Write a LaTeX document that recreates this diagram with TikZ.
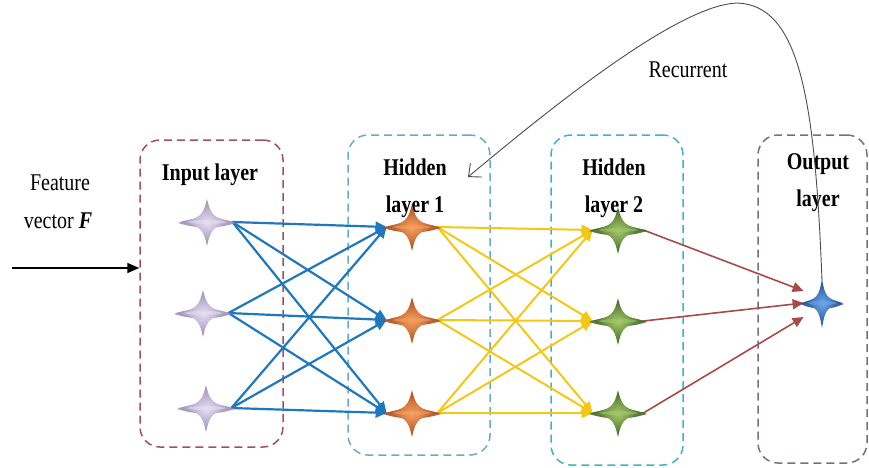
\documentclass[tikz,border=0pt]{standalone}
\usepackage{graphicx}
\usepackage{fontspec}
\setmainfont{Liberation Serif}
\usetikzlibrary{arrows.meta,fit}
\newcommand{\tallt}[1]{\scalebox{1}[1.2]{#1}}
\definecolor{inboxc}{HTML}{A0505E}
\definecolor{hboxa}{HTML}{6AAAC6}
\definecolor{hboxb}{HTML}{3DB2CA}
\definecolor{oboxc}{HTML}{756D8C}
\definecolor{blueedge}{HTML}{1F78BE}
\definecolor{yellowedge}{HTML}{F2C814}
\definecolor{rededge}{HTML}{A84A4A}
\definecolor{lavin}{HTML}{E6DEF0}
\definecolor{lavout}{HTML}{9A8AB6}
\definecolor{orin}{HTML}{F7A060}
\definecolor{orout}{HTML}{A84A1C}
\definecolor{grin}{HTML}{A6C86A}
\definecolor{grout}{HTML}{3A6420}
\definecolor{blin}{HTML}{6AA6E8}
\definecolor{blout}{HTML}{1C4A90}
\tikzset{
  x=0.5pt, y=-0.5pt,
  layerbox/.style={draw, dashed, dash pattern=on 4pt off 2.5pt, line width=0.75pt, rounded corners=10pt, inner sep=0pt},
  starnode/.style={rectangle, inner sep=0pt, minimum width=25pt, minimum height=22pt},
  outnode/.style={rectangle, inner sep=0pt, minimum width=18pt, minimum height=22pt},
  lbl/.style={font=\fontsize{10}{18.5}\selectfont, align=center, inner sep=0pt},
  blbl/.style={font=\fontsize{10}{18.5}\selectfont\bfseries, align=center, inner sep=0pt},
  tip/.style={-{Triangle[length=5.5pt,width=5pt]}},
  blueconn/.style={tip, draw=blueedge, line width=1.1pt},
  yellowconn/.style={tip, draw=yellowedge, line width=1pt},
  redconn/.style={tip, draw=rededge, line width=0.8pt},
  pics/fourstar/.style n args={2}{code={
    \fill[#2, opacity=0.85] (-29,1) .. controls (-10,-6) and (10,-6) .. (29,1) .. controls (10,7) and (-10,7) .. (-29,1) -- cycle;
    \shade[inner color=#1, outer color=#2] (0,-23) .. controls (4,-6) and (7,-4) .. (27,0) .. controls (7,4) and (4,6) .. (0,24) .. controls (-4,6) and (-7,4) .. (-27,0) .. controls (-7,-4) and (-4,-6) .. (0,-23) -- cycle;
    \fill[#1, opacity=0.6] (-20,0) .. controls (-7,-3) and (7,-3) .. (20,0) .. controls (7,3) and (-7,3) .. (-20,0) -- cycle;
  }}
}
\begin{document}
\begin{tikzpicture}
\useasboundingbox (0,0) rectangle (869,467);
% layer boxes
\node[layerbox, draw=inboxc, fit={(140,140) (283,447)}] (inbox) {};
\node[layerbox, draw=hboxa, fit={(348,135) (490,455)}] (h1box) {};
\node[layerbox, draw=hboxb, fit={(551,135) (683,465)}] (h2box) {};
\node[layerbox, draw=oboxc, fit={(758,135) (867,463)}] (obox) {};
% labels
\node[lbl] (feat) at (60,183) {\tallt{Feature}};
\node[lbl] (vec) at (58,221) {\tallt{vector \textbf{\textit{F}}}};
\node[blbl] (inlbl) at (210,175) {\tallt{Input layer}};
\node[blbl] (h1lbl) at (415,188) {\tallt{Hidden}\\\tallt{layer 1}};
\node[blbl] (h2lbl) at (614,188) {\tallt{Hidden}\\\tallt{layer 2}};
\node[blbl] (olbl) at (818,183) {\tallt{Output}\\\tallt{layer}};
\node[lbl] (rec) at (688,70) {\tallt{Recurrent}};
% neuron nodes
\node[starnode] (i1) at (207,222) {};
\node[starnode] (i2) at (203,313) {};
\node[starnode] (i3) at (206,408) {};
\node[starnode] (a1) at (412,227) {};
\node[starnode] (a2) at (412,320) {};
\node[starnode] (a3) at (412,413) {};
\node[starnode] (b1) at (618,230) {};
\node[starnode] (b2) at (618,321) {};
\node[starnode] (b3) at (618,413) {};
\node[outnode] (o) at (822,303) {};
% input arrow
\coordinate (fstart) at (12,268);
\draw[-{Triangle[length=6pt,width=5pt]}, line width=0.8pt] (fstart) -- (fstart -| inbox.west);
% connectors
\foreach \s in {i1,i2,i3}{
  \foreach \t in {a1,a2,a3}{
    \draw[blueconn] (\s.east) -- (\t.west);
  }
}
\foreach \s in {a1,a2,a3}{
  \foreach \t in {b1,b2,b3}{
    \draw[yellowconn] (\s.east) -- (\t.west);
  }
}
\coordinate (oa) at ([yshift=6pt]o.west);
\coordinate (ob) at (o.west);
\coordinate (oc) at ([yshift=-7pt]o.west);
\draw[redconn] (b1.east) -- (oa);
\draw[redconn] (b2.east) -- (ob);
\draw[redconn] (b3.east) -- (oc);
% stars
\foreach \n in {i1,i2,i3}{ \pic at (\n) {fourstar={lavin}{lavout}}; }
\foreach \n in {a1,a2,a3}{ \pic at (\n) {fourstar={orin}{orout}}; }
\foreach \n in {b1,b2,b3}{ \pic at (\n) {fourstar={grin}{grout}}; }
\pic[xscale=0.75, yscale=1.05] at (o) {fourstar={blin}{blout}};
% recurrent connection
\coordinate (recend) at (468,177);
\draw[draw=black!70, line width=0.45pt, -{Straight Barb[length=5pt,width=9pt]}]
  (o.north) .. controls (815,100) and (800,5) .. (737,3)
  .. controls (680,5) and (560,100) .. (recend);
\end{tikzpicture}
\end{document}
